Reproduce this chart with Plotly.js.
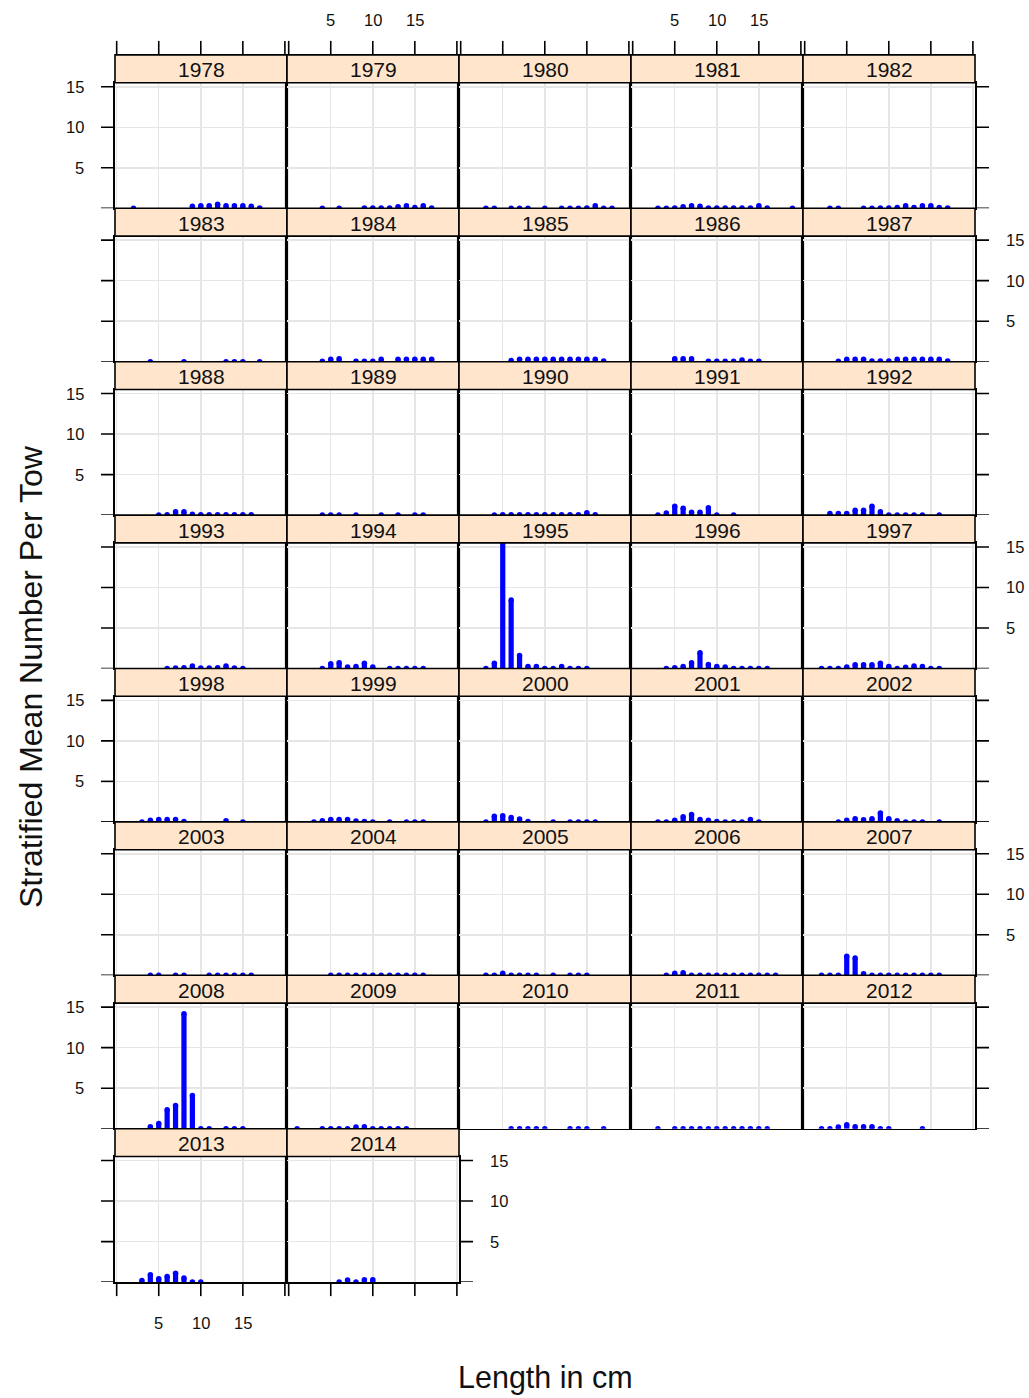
<!DOCTYPE html>
<html>
<head>
<meta charset="utf-8">
<script src="https://cdn.plot.ly/plotly-3.0.1.min.js"></script>
<style>html,body{margin:0;padding:0;background:#fff;}#plot{width:1029px;height:1398px;}</style>
</head>
<body>
<div id="plot"></div>
<script>
// ---------- DATA ----------
const n = null;
const lengths = [1,2,3,4,5,6,7,8,9,10,11,12,13,14,15,16,17,18,19];
const years = [1978,1979,1980,1981,1982,1983,1984,1985,1986,1987,1988,1989,1990,1991,1992,1993,1994,1995,1996,1997,1998,1999,2000,2001,2002,2003,2004,2005,2006,2007,2008,2009,2010,2011,2012,2013,2014];
const xTickVals = [0,5,10,15,20];
const xTickText = ['','5','10','15',''];
const yTickVals = [0,5,10,15];
const yTickText = ['','5','10','15'];

// stratified mean number per tow by length (1..19 cm); null = no observation
const v1978 = [n,0,n,n,n,n,n,n,0.25,0.3,0.3,0.5,0.3,0.3,0.3,0.25,0.05,n,n];
const v1979 = [n,n,n,0,n,0,n,n,0.05,0.05,0.05,0.05,0.2,0.3,0.1,0.3,0.05,n,n];
const v1980 = [n,n,0,0,n,0,0,0,n,0,n,0,0,0,0.05,0.3,0,0,n];
const v1981 = [n,n,0,0,0.05,0.2,0.3,0.25,0.05,0.05,0.05,0.05,0.05,0.05,0.3,0.05,n,n,0];
const v1982 = [n,n,0,0,n,n,0,0,0.05,0.05,0.1,0.3,0.1,0.3,0.3,0.1,0.05,n,n];
const v1983 = [n,n,n,0,n,n,n,0,n,n,n,n,0,0,0,n,0,n,n];
const v1984 = [n,n,n,0.05,0.3,0.35,n,0.05,0.05,0.05,0.3,n,0.3,0.3,0.3,0.3,0.3,n,n];
const v1985 = [n,n,n,n,n,0.15,0.3,0.3,0.3,0.3,0.3,0.3,0.3,0.3,0.3,0.3,0.1,n,n];
const v1986 = [n,n,n,n,0.35,0.35,0.35,n,0.05,0.05,0.05,0.05,0.2,0.05,0.05,n,n,n,n];
const v1987 = [n,n,n,0.05,0.3,0.3,0.3,0.1,0.1,0.1,0.3,0.3,0.3,0.3,0.3,0.3,0.1,n,n];
const v1988 = [n,n,n,n,0,0.05,0.4,0.4,0.1,0.05,0.05,0.05,0.05,0.05,0.05,0.05,n,n,n];
const v1989 = [n,n,n,0,0,0,n,0,n,n,0,n,0,n,0,0,n,n,n];
const v1990 = [n,n,n,0,0.05,0.05,0.05,0.05,0.05,0.05,0.05,0.05,0.05,0.05,0.3,0.05,n,n,n];
const v1991 = [n,n,0,0.25,1.1,0.85,0.35,0.35,0.9,0,n,0,n,n,n,n,n,n,n];
const v1992 = [n,n,0.2,0.2,0.2,0.6,0.6,1.1,0.4,0,0,0,0,0,n,0,n,n,n];
const v1993 = [n,n,n,n,n,0,0.05,0.1,0.3,0.05,0.05,0.1,0.3,0.05,0,n,n,n,n];
const v1994 = [n,n,n,0,0.6,0.7,0.2,0.25,0.65,0.2,n,0,0,0,0,0,n,n,n];
const v1995 = [n,n,0,0.65,18,8.45,1.6,0.25,0.25,0,0,0.25,0,0,0,n,n,n,n];
const v1996 = [n,n,n,0,0.1,0.25,0.7,1.95,0.5,0.25,0.2,0,0,0,0,0,n,n,n];
const v1997 = [n,0,0,0,0.2,0.45,0.45,0.45,0.65,0.25,0,0.15,0.3,0.25,0,0,n,n,n];
const v1998 = [n,n,0,0.2,0.3,0.3,0.3,0.05,n,n,n,n,0.15,n,0,n,n,n,n];
const v1999 = [n,n,0,0.15,0.3,0.3,0.3,0.1,0.05,0,n,0,n,0,0,0,n,n,n];
const v2000 = [n,n,0,0.7,0.75,0.55,0.35,0.05,n,n,0,n,0,0,0,0,n,n,n];
const v2001 = [n,n,0,0,0.2,0.65,0.9,0.3,0.2,0.05,0,0,0,0.3,0,n,n,n,n];
const v2002 = [n,n,n,0,0.2,0.4,0.25,0.4,1.1,0.4,0.15,0,0,0,n,0,n,n,n];
const v2003 = [n,n,n,0,0,n,0,0,n,n,0,0,0,0,0,0,n,n,n];
const v2004 = [n,n,n,n,0,0,0,0,0,0,0,0,0,0,0,0,n,n,n];
const v2005 = [n,n,0,0,0.25,0,0,0,0,n,0,n,0,0,0,n,n,n,n];
const v2006 = [n,n,n,0,0.25,0.3,0,0,0,0,0,0,0,0,0,0,0,n,n];
const v2007 = [n,0,0,0,2.35,2.15,0.2,0,0,0,0,0,0,0,0,0,n,n,n];
const v2008 = [n,n,n,0.25,0.65,2.35,2.85,14.2,4.1,0,0,n,0,0,0,n,n,n,n];
const v2009 = [0,n,n,0,0,0,0,0.2,0.25,0,0,0,0,0,n,n,n,n,n];
const v2010 = [n,n,n,n,n,0,0,0,0,0,n,n,0,0,0,n,0,n,n];
const v2011 = [n,n,0,n,0,0,0,0,0,0,0,0,0,0,0,0,n,n,n];
const v2012 = [n,0,0,0.2,0.5,0.25,0.25,0.25,0,0,n,n,n,0,n,n,n,n,n];
const v2013 = [n,n,0.2,0.9,0.4,0.7,1.1,0.5,0,0,n,n,n,n,n,n,n,n,n];
const v2014 = [n,n,n,n,n,0,0.25,0,0.3,0.3,n,n,n,n,n,n,n,n,n];

const series = [v1978,v1979,v1980,v1981,v1982,v1983,v1984,v1985,v1986,v1987,v1988,v1989,v1990,v1991,v1992,v1993,v1994,v1995,v1996,v1997,v1998,v1999,v2000,v2001,v2002,v2003,v2004,v2005,v2006,v2007,v2008,v2009,v2010,v2011,v2012,v2013,v2014];

// ---------- LAYOUT GEOMETRY ----------
const W = 1029, H = 1398;
const px = v => v / W;
const py = v => 1 - v / H;
const NCOL = 5, NROW = 8;
const colLeft = c => 115 + 172 * c;
const PW = 172;
const rowBottom = r => 208.3 + 153.4 * r;
const PH = 125.6, SH = 27.8, TL = 14;
const FONT = 'Liberation Sans, Arial, sans-serif';
const TXT = '#111';
const lineStyle = {color: '#000', width: 1.6};

const data = [], shapes = [], annotations = [];
const layout = {
  width: W, height: H,
  margin: {l: 0, r: 0, t: 0, b: 0},
  paper_bgcolor: '#fff', plot_bgcolor: '#fff',
  showlegend: false, hovermode: false,
  font: {family: FONT, color: TXT}
};

years.forEach((yr, k) => {
  const r = Math.floor(k / NCOL), c = k % NCOL;
  const id = k === 0 ? '' : String(k + 1);
  const L = colLeft(c), R = L + PW, B = rowBottom(r), T = B - PH, ST = T - SH;
  layout['xaxis' + id] = {
    domain: [px(L), px(R)], range: [-0.2, 20.25], anchor: 'y' + id,
    tickvals: xTickVals, showticklabels: false, ticks: '',
    showgrid: true, gridcolor: '#e6e6e6', gridwidth: 1.5, zeroline: false,
    showline: true, mirror: true, linecolor: '#000', linewidth: 1.6, fixedrange: true
  };
  layout['yaxis' + id] = {
    domain: [py(B), py(T)], range: [0, 15.5], anchor: 'x' + id,
    tickvals: yTickVals, showticklabels: false, ticks: '',
    showgrid: true, gridcolor: '#e6e6e6', gridwidth: 1.5, zeroline: false,
    showline: true, mirror: true, linecolor: '#000', linewidth: 1.6, fixedrange: true
  };
  const vals = series[k];
  const xs = [], ys = [];
  lengths.forEach((len, i) => { if (vals[i] !== null) { xs.push(len); ys.push(vals[i]); } });
  data.push({type: 'bar', x: xs, y: ys, xaxis: 'x' + id, yaxis: 'y' + id, width: 0.62,
    marker: {color: '#0000ff', line: {width: 0}}, hoverinfo: 'skip'});
  data.push({type: 'scatter', mode: 'markers', x: xs, y: ys, xaxis: 'x' + id, yaxis: 'y' + id,
    marker: {color: '#0000ff', size: 5.5, line: {width: 0}}, hoverinfo: 'skip', cliponaxis: true});

  // strip
  shapes.push({type: 'rect', xref: 'paper', yref: 'paper', x0: px(L), x1: px(R), y0: py(T), y1: py(ST),
    fillcolor: '#ffe5cc', line: lineStyle, layer: 'above'});
  annotations.push({text: String(yr), xref: 'paper', yref: 'paper', x: px((L + R) / 2), y: py((T + ST) / 2 + 1),
    xanchor: 'center', yanchor: 'middle', showarrow: false, font: {size: 21, family: FONT, color: TXT}});

  // top axis (above first row strips)
  if (r === 0) {
    xTickVals.forEach((t, i) => {
      shapes.push({type: 'line', xref: 'x' + id, yref: 'paper', x0: t, x1: t, y0: py(ST), y1: py(ST - TL), line: lineStyle});
      if (c % 2 === 1 && xTickText[i]) annotations.push({text: xTickText[i], xref: 'x' + id, yref: 'paper', x: t, y: py(19.5),
        xanchor: 'center', yanchor: 'middle', showarrow: false, font: {size: 16.5, family: FONT, color: TXT}});
    });
  }
  // bottom axis (last row)
  if (r === NROW - 1) {
    xTickVals.forEach((t, i) => {
      shapes.push({type: 'line', xref: 'x' + id, yref: 'paper', x0: t, x1: t, y0: py(B), y1: py(B + TL), line: lineStyle});
      if (c % 2 === 0 && xTickText[i]) annotations.push({text: xTickText[i], xref: 'x' + id, yref: 'paper', x: t, y: py(1323),
        xanchor: 'center', yanchor: 'middle', showarrow: false, font: {size: 16.5, family: FONT, color: TXT}});
    });
  }
  // left axis
  if (c === 0) {
    yTickVals.forEach((t, i) => {
      shapes.push({type: 'line', xref: 'paper', yref: 'y' + id, x0: px(L - TL), x1: px(L), y0: t, y1: t, line: lineStyle});
      if (r % 2 === 0 && yTickText[i]) annotations.push({text: yTickText[i], xref: 'paper', yref: 'y' + id, x: px(L - 29), y: t,
        xanchor: 'right', yanchor: 'middle', showarrow: false, font: {size: 16.5, family: FONT, color: TXT}});
    });
  }
  // right axis
  if (c === NCOL - 1 || k === years.length - 1) {
    yTickVals.forEach((t, i) => {
      shapes.push({type: 'line', xref: 'paper', yref: 'y' + id, x0: px(R), x1: px(R + TL), y0: t, y1: t, line: lineStyle});
      if (r % 2 === 1 && yTickText[i]) annotations.push({text: yTickText[i], xref: 'paper', yref: 'y' + id, x: px(R + 29), y: t,
        xanchor: 'left', yanchor: 'middle', showarrow: false, font: {size: 16.5, family: FONT, color: TXT}});
    });
  }
});

annotations.push({text: 'Length in cm', xref: 'paper', yref: 'paper', x: px(545), y: py(1377),
  xanchor: 'center', yanchor: 'middle', showarrow: false, font: {size: 30.5, family: FONT, color: TXT}});
annotations.push({text: 'Stratified Mean Number Per Tow', xref: 'paper', yref: 'paper', x: px(31), y: py(677),
  xanchor: 'center', yanchor: 'middle', textangle: -90, showarrow: false, font: {size: 32, family: FONT, color: TXT}});

layout.shapes = shapes;
layout.annotations = annotations;
layout.barmode = 'overlay';

Plotly.newPlot('plot', data, layout, {staticPlot: true, displayModeBar: false});
</script>
</body>
</html>
